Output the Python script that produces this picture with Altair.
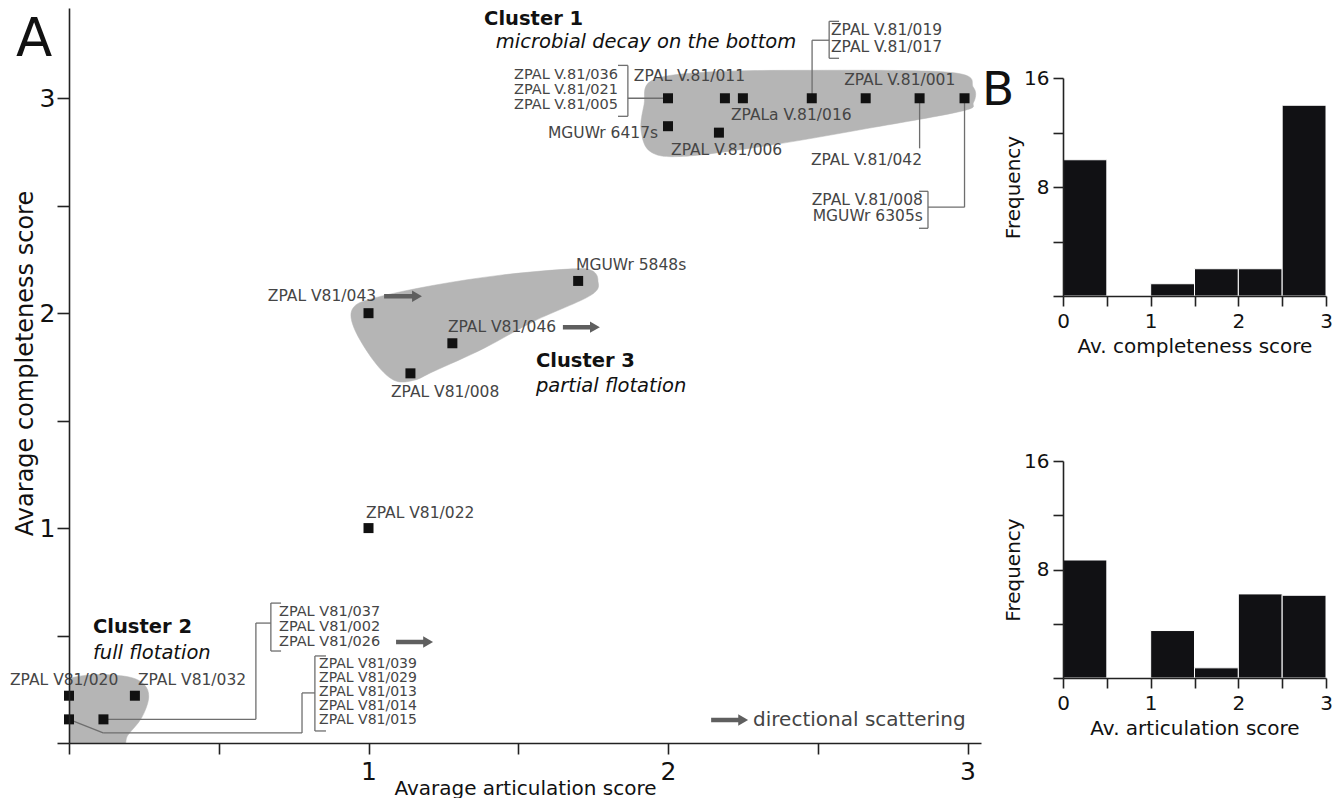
import altair as alt
import pandas as pd

FONT = "DejaVu Sans"

# ---------------- Panel A data (data units) ----------------
pt_x = [2.0, 2.19, 2.25, 2.48, 2.66, 2.84, 2.99, 2.0, 2.17,
        1.70, 1.0, 1.28, 1.14, 1.0, 0.0, 0.22, 0.0, 0.115]
pt_y = [3.0, 3.0, 3.0, 3.0, 3.0, 3.0, 3.0, 2.87, 2.84,
        2.15, 2.0, 1.86, 1.72, 1.0, 0.22, 0.22, 0.11, 0.11]

hull1_x = [1.91, 1.92, 1.943, 2.11, 2.444, 2.945, 3.02, 3.02, 2.98, 2.668, 2.334, 2.053, 1.943]
hull1_y = [2.85, 2.97, 3.08, 3.12, 3.13, 3.12, 3.05, 2.98, 2.94, 2.86, 2.78, 2.73, 2.75]
hull2_x = [-0.04, -0.04, 0.0, 0.083, 0.197, 0.251, 0.266, 0.242, 0.197, 0.16]
hull2_y = [-0.04, 0.27, 0.30, 0.318, 0.308, 0.272, 0.209, 0.116, 0.037, -0.04]
hull3_x = [0.948, 1.018, 1.219, 1.442, 1.666, 1.743, 1.766, 1.743, 1.553, 1.386, 1.219, 1.152, 1.085, 1.018, 0.952]
hull3_y = [2.023, 2.07, 2.13, 2.177, 2.205, 2.2, 2.153, 2.084, 1.963, 1.837, 1.73, 1.688, 1.688, 1.777, 1.93]

lab_text = ["ZPAL V.81/036", "ZPAL V.81/021", "ZPAL V.81/005", "ZPAL V.81/011",
            "ZPALa V.81/016", "ZPAL V.81/019", "ZPAL V.81/017", "ZPAL V.81/001",
            "MGUWr 6417s", "ZPAL V.81/006", "ZPAL V.81/042", "ZPAL V.81/008",
            "MGUWr 6305s", "MGUWr 5848s", "ZPAL V81/043", "ZPAL V81/046",
            "ZPAL V81/008", "ZPAL V81/022", "ZPAL V81/020", "ZPAL V81/032",
            "ZPAL V81/037", "ZPAL V81/002", "ZPAL V81/026", "ZPAL V81/039",
            "ZPAL V81/029", "ZPAL V81/013", "ZPAL V81/014", "ZPAL V81/015"]
lab_x = [1.833, 1.833, 1.833, 1.886, 2.210, 2.544, 2.544, 2.588, 1.967, 2.010,
         2.477, 2.851, 2.851, 1.693, 0.664, 1.265, 1.075, 0.992, -0.197, 0.230,
         0.701, 0.701, 0.701, 0.835, 0.835, 0.835, 0.835, 0.835]
lab_y = [3.107, 3.037, 2.967, 3.102, 2.921, 3.316, 3.237, 3.084, 2.837, 2.758,
         2.712, 2.526, 2.451, 2.223, 2.079, 1.935, 1.633, 1.07, 0.293, 0.293,
         0.609, 0.539, 0.470, 0.367, 0.302, 0.237, 0.172, 0.107]
lab_align = ["right", "right", "right", "left", "left", "left", "left", "left",
             "right", "left", "left", "right", "right", "left", "left", "left",
             "left", "left", "left", "left", "left", "left", "left", "left",
             "left", "left", "left", "left"]
lab_size = [14.5, 14.5, 14.5, 15.5, 15.5, 15.5, 15.5, 15.5, 15.5, 15.5,
            15.5, 15.5, 15.5, 15.5, 15.5, 15.5, 15.5, 15.5, 15.5, 15.5,
            14.5, 14.5, 14.5, 14, 14, 14, 14, 14]

ttl_text = ["Cluster 1", "microbial decay on the bottom", "Cluster 2", "full flotation",
            "Cluster 3", "partial flotation", "directional scattering"]
ttl_x = [1.386, 1.425, 0.080, 0.080, 1.559, 1.559, 2.284]
ttl_y = [3.367, 3.26, 0.540, 0.419, 1.777, 1.660, 0.107]
ttl_kind = ["bold", "italic", "bold", "italic", "bold", "italic", "legend"]

panel_text = ["A", "B"]
panel_x = [-0.177, 3.048]
panel_y = [3.272, 3.033]
panel_size = [53, 47]

seg_x = [1.866, 1.833, 1.833, 1.866,
         2.538, 2.538, 2.538, 2.481, 2.481,
         2.84,
         2.868, 2.838, 2.838, 2.868, 2.99,
         0.674, 0.674, 0.674, 0.624, 0.624, 0.115,
         0.821, 0.821, 0.821, 0.778, 0.778, 0.114, 0.0]
seg_y = [3.153, 3.153, 2.916, 3.0,
         3.358, 3.358, 3.186, 3.270, 3.270,
         3.0,
         2.567, 2.567, 2.395, 2.493, 2.493,
         0.651, 0.651, 0.428, 0.558, 0.558, 0.11,
         0.405, 0.405, 0.056, 0.233, 0.233, 0.047, 0.11]
seg_x2 = [1.866, 1.866, 1.866, 2.0,
          2.538, 2.571, 2.571, 2.538, 2.481,
          2.84,
          2.868, 2.868, 2.868, 2.99, 2.99,
          0.674, 0.708, 0.708, 0.674, 0.624, 0.624,
          0.821, 0.858, 0.858, 0.821, 0.778, 0.778, 0.114]
seg_y2 = [2.916, 3.153, 2.916, 3.0,
          3.186, 3.358, 3.186, 3.270, 3.0,
          2.767,
          2.395, 2.567, 2.395, 2.493, 3.0,
          0.428, 0.651, 0.428, 0.558, 0.11, 0.11,
          0.056, 0.405, 0.056, 0.233, 0.047, 0.047, 0.047]

arr_x = [1.052, 1.649, 1.092, 2.144]
arr_tip = [1.182, 1.776, 1.219, 2.271]
arr_y = [2.079, 1.935, 0.470, 0.107]

# ---------------- Panel B data ----------------
bin_start = [0, 0.5, 1, 1.5, 2, 2.5]
bin_end = [0.5, 1, 1.5, 2, 2.5, 3]
freq_completeness = [10, 0, 0.9, 2, 2, 14]
freq_articulation = [8.7, 0, 3.5, 0.75, 6.2, 6.1]

# ---------------- tables ----------------
pts = pd.DataFrame({"x": pt_x, "y": pt_y})
hull_rows = []
for name, hx, hy in [("c1", hull1_x, hull1_y), ("c2", hull2_x, hull2_y), ("c3", hull3_x, hull3_y)]:
    for i, (a, b) in enumerate(zip(hx, hy)):
        hull_rows.append({"cluster": name, "order": i, "x": a, "y": b})
hulls = pd.DataFrame(hull_rows)
labels = pd.DataFrame({"text": lab_text, "x": lab_x, "y": lab_y, "align": lab_align, "fs": lab_size})
titles = pd.DataFrame({"text": ttl_text, "x": ttl_x, "y": ttl_y, "kind": ttl_kind})
panels = pd.DataFrame({"text": panel_text, "x": panel_x, "y": panel_y, "fs": panel_size})
segs = pd.DataFrame({"x": seg_x, "y": seg_y, "x2": seg_x2, "y2": seg_y2})
arrows = pd.DataFrame({"x": arr_x, "tip": arr_tip, "y": arr_y})

INT_LABEL = "datum.value > 0 && datum.value % 1 == 0 ? format(datum.value, 'd') : ''"

xsc = alt.Scale(domain=[0, 3.045], nice=False, zero=False)
ysc = alt.Scale(domain=[0, 3.42], nice=False, zero=False)
ax_x = alt.Axis(title="Avarage articulation score", values=[0, 0.5, 1, 1.5, 2, 2.5, 3],
                labelExpr=INT_LABEL,
                tickSize=11, labelPadding=5, labelFontSize=25, titleFontSize=20,
                titlePadding=-6, labelFlush=False, labelOverlap=False, grid=False,
                domainWidth=1.6, tickWidth=1.6, zindex=1)
ax_y = alt.Axis(title="Avarage completeness score", values=[0, 0.5, 1, 1.5, 2, 2.5, 3],
                labelExpr=INT_LABEL,
                tickSize=12, labelPadding=2, labelFontSize=25, titleFontSize=24,
                titlePadding=2, labelFlush=False, labelOverlap=False, grid=False,
                domainWidth=1.6, tickWidth=1.6, zindex=1, titleY=355)


def X(f):
    return alt.X(f, type="quantitative", scale=xsc, axis=ax_x)


def Y(f):
    return alt.Y(f, type="quantitative", scale=ysc, axis=ax_y)


hull_layer = alt.Chart(hulls).mark_line(
    interpolate="cardinal-closed", fill="#b5b5b5", stroke="#b5b5b5", strokeWidth=0.5, clip=True
).encode(x=X("x"), y=Y("y"), detail="cluster:N", order=alt.Order("order:Q"))

seg_layer = alt.Chart(segs).mark_rule(color="#6e6e6e", strokeWidth=1.3).encode(
    x=X("x"), y=Y("y"), x2="x2:Q", y2="y2:Q")

shaft_layer = alt.Chart(arrows).mark_rule(color="#5f5f5f", strokeWidth=4.5, x2Offset=-6).encode(
    x=X("x"), x2="tip:Q", y=Y("y"))
head_layer = alt.Chart(arrows).mark_point(shape="triangle-right", filled=True, size=130,
                                          color="#5f5f5f", opacity=1, xOffset=-6).encode(
    x=X("tip"), y=Y("y"))

pt_layer = alt.Chart(pts).mark_square(size=100, color="#111111", opacity=1).encode(x=X("x"), y=Y("y"))

lab_left = alt.Chart(labels).transform_filter("datum.align == 'left'").mark_text(
    align="left", baseline="middle", color="#454545", font=FONT
).encode(x=X("x"), y=Y("y"), text="text:N", size=alt.Size("fs:Q", scale=None))
lab_right = alt.Chart(labels).transform_filter("datum.align == 'right'").mark_text(
    align="right", baseline="middle", color="#454545", font=FONT
).encode(x=X("x"), y=Y("y"), text="text:N", size=alt.Size("fs:Q", scale=None))

t_bold = alt.Chart(titles).transform_filter("datum.kind == 'bold'").mark_text(
    align="left", baseline="middle", fontSize=19.5, fontWeight="bold", color="#111111", font=FONT
).encode(x=X("x"), y=Y("y"), text="text:N")
t_ital = alt.Chart(titles).transform_filter("datum.kind == 'italic'").mark_text(
    align="left", baseline="middle", fontSize=19.5, fontStyle="italic", color="#111111", font=FONT
).encode(x=X("x"), y=Y("y"), text="text:N")
t_leg = alt.Chart(titles).transform_filter("datum.kind == 'legend'").mark_text(
    align="left", baseline="middle", fontSize=20, color="#444444", font=FONT
).encode(x=X("x"), y=Y("y"), text="text:N")
t_panel = alt.Chart(panels).mark_text(
    align="left", baseline="middle", color="#111111", font=FONT
).encode(x=X("x"), y=Y("y"), text="text:N", size=alt.Size("fs:Q", scale=None))

panel_a = alt.layer(hull_layer, seg_layer, shaft_layer, head_layer, pt_layer,
                    lab_left, lab_right, t_bold, t_ital, t_leg, t_panel).properties(width=912, height=735)

# ---------------- histograms ----------------
hxs = alt.Scale(domain=[0, 3], nice=False, zero=False)
hys = alt.Scale(domain=[0, 16], nice=False)


def hist(freqs, title):
    df = pd.DataFrame({"start": bin_start, "end": bin_end, "freq": freqs})
    return alt.Chart(df).transform_filter("datum.freq > 0").mark_bar(
        color="#111114", stroke="white", strokeWidth=1
    ).encode(
        x=alt.X("start:Q", scale=hxs, axis=alt.Axis(
            title=title, values=[0, 0.5, 1, 1.5, 2, 2.5, 3],
            labelExpr="datum.value % 1 == 0 ? format(datum.value, 'd') : ''",
            tickSize=10, labelPadding=5, labelFontSize=20, titleFontSize=20, titlePadding=5,
            labelFlush=False, labelOverlap=False, grid=False, domainWidth=1.6, tickWidth=1.6, zindex=1)),
        x2="end:Q",
        y=alt.Y("freq:Q", scale=hys, axis=alt.Axis(
            title="Frequency", values=[0, 4, 8, 12, 16],
            labelExpr="datum.value == 8 || datum.value == 16 ? format(datum.value, 'd') : ''",
            tickSize=10, labelPadding=4, labelFontSize=20, titleFontSize=20, titlePadding=0,
            labelFlush=False, labelOverlap=False, grid=False, domainWidth=1.6, tickWidth=1.6, zindex=1)),
        y2=alt.datum(0),
    )


def spacer(h):
    return alt.Chart(pd.DataFrame({"v": [0.5]})).mark_point(opacity=0, size=1).encode(
        x=alt.X("v:Q", axis=None, scale=alt.Scale(domain=[0, 1])),
        y=alt.Y("v:Q", axis=None, scale=alt.Scale(domain=[0, 1]))).properties(width=263, height=h)


h1 = hist(freq_completeness, "Av. completeness score").properties(width=263, height=218)
h2 = hist(freq_articulation, "Av. articulation score").properties(width=263, height=217)

right = alt.vconcat(spacer(70), h1, spacer(165), h2, spacing=0, bounds="flush")

chart = alt.hconcat(panel_a, right, spacing=82, bounds="flush").properties(
    padding={"left": 1, "top": 0, "right": 0, "bottom": 0}
).configure(font=FONT).configure_view(strokeWidth=0).configure_axis(
    domainColor="#222222", tickColor="#222222", labelColor="#111111", titleColor="#111111",
    labelFont=FONT, titleFont=FONT, titleFontWeight="normal"
)

chart.save("out.html", embed_options={"renderer": "svg", "actions": False})
